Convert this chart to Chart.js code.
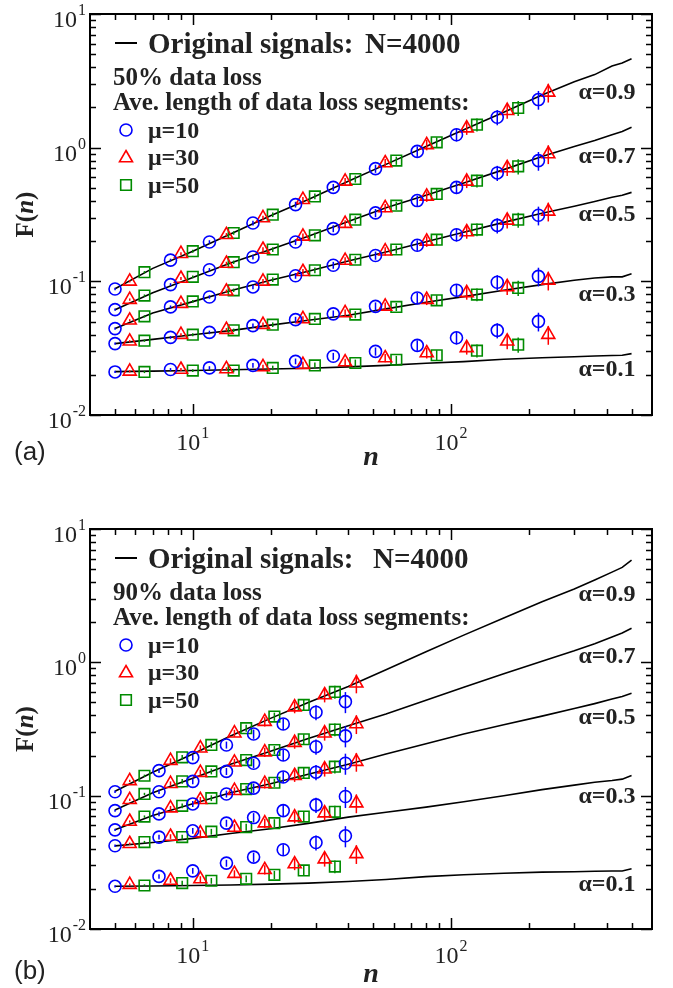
<!DOCTYPE html>
<html>
<head>
<meta charset="utf-8">
<title>F(n) with data loss</title>
<script src="https://cdn.jsdelivr.net/npm/chart.js@4.4.1/dist/chart.umd.min.js"></script>
<style>
    html, body { margin: 0; padding: 0; background: #fff; }
    #wrap { position: relative; width: 673px; height: 988px; }
    #wrap canvas { position: absolute; left: 0; }
    #chartA { top: 0; }
    #chartB { top: 490px; }
</style>
</head>
<body>
<div id="wrap">
    <canvas id="chartA" width="673" height="490"></canvas>
    <canvas id="chartB" width="673" height="498"></canvas>
</div>
<script>
// --- DATA ---
// rows in every block below run alpha = 0.9, 0.7, 0.5, 0.3, 0.1
const alphaLabels = ['α=0.9', 'α=0.7', 'α=0.5', 'α=0.3', 'α=0.1'];
const muLabels = ['μ=10', 'μ=30', 'μ=50'];

// original signals (N=4000)
const lineN = [5, 7, 10, 14, 20, 28, 40, 56, 80, 112, 160, 225, 300, 360, 420, 460, 500];

const topLines = [
    [0.088, 0.125, 0.168, 0.226, 0.31, 0.41, 0.56, 0.75, 1.02, 1.36, 1.84, 2.48, 3.11, 3.52, 4.08, 4.30, 4.63],
    [0.0614, 0.082, 0.107, 0.137, 0.173, 0.217, 0.28, 0.355, 0.44, 0.545, 0.685, 0.86, 1.02, 1.13, 1.25, 1.32, 1.42],
    [0.0443, 0.058, 0.0705, 0.085, 0.102, 0.119, 0.142, 0.166, 0.198, 0.233, 0.276, 0.323, 0.365, 0.395, 0.425, 0.44, 0.463],
    [0.0342, 0.0368, 0.0399, 0.0428, 0.047, 0.0512, 0.0558, 0.0622, 0.0698, 0.0768, 0.0858, 0.0945, 0.102, 0.106, 0.108, 0.108, 0.114],
    [0.0211, 0.0213, 0.0215, 0.0218, 0.0221, 0.0224, 0.0229, 0.0235, 0.0244, 0.0251, 0.0261, 0.0268, 0.0273, 0.0276, 0.0279, 0.0280, 0.0288]
];

const botLines = [
    [0.108, 0.15, 0.205, 0.28, 0.38, 0.50, 0.66, 0.88, 1.2, 1.6, 2.15, 2.85, 3.55, 4.15, 4.75, 5.15, 5.84],
    [0.078, 0.105, 0.135, 0.172, 0.215, 0.268, 0.335, 0.41, 0.52, 0.65, 0.82, 1.02, 1.22, 1.38, 1.55, 1.66, 1.80],
    [0.0555, 0.071, 0.087, 0.105, 0.123, 0.145, 0.172, 0.205, 0.245, 0.29, 0.34, 0.395, 0.45, 0.49, 0.53, 0.555, 0.586],
    [0.042, 0.0445, 0.0478, 0.052, 0.0565, 0.062, 0.069, 0.075, 0.082, 0.09, 0.10, 0.111, 0.12, 0.126, 0.13, 0.133, 0.1416],
    [0.0209, 0.021, 0.0212, 0.0214, 0.0217, 0.0221, 0.0227, 0.0235, 0.0247, 0.0255, 0.0262, 0.0267, 0.0269, 0.0271, 0.0272, 0.0272, 0.0283]
];

// (a) 50% data loss
const topNMu10 = [5, 8.2, 11.6, 17.1, 25, 35, 51, 74, 105, 151, 218];
const topNMu30 = [5.7, 9.0, 13.5, 18.7, 26.7, 38.9, 55.6, 80.5, 115, 165, 238];
const topNMu50 = [6.5, 10, 14.4, 20.4, 29.7, 42.6, 61.4, 88, 126, 182];

const topMu10 = [
    [0.0877, 0.144, 0.197, 0.273, 0.375, 0.505, 0.697, 0.938, 1.25, 1.69, 2.29],
    [0.0614, 0.0945, 0.122, 0.152, 0.197, 0.248, 0.325, 0.402, 0.505, 0.647, 0.800],
    [0.0443, 0.0644, 0.0764, 0.0908, 0.110, 0.132, 0.156, 0.186, 0.223, 0.262, 0.312],
    [0.0342, 0.0381, 0.0415, 0.0466, 0.0517, 0.0571, 0.0650, 0.0751, 0.0857, 0.0984, 0.109],
    [0.0210, 0.0219, 0.0225, 0.0235, 0.0252, 0.0275, 0.0299, 0.0332, 0.0378, 0.0430, 0.0502]
];
const topMu30 = [
    [0.100, 0.161, 0.223, 0.298, 0.408, 0.560, 0.768, 1.05, 1.40, 1.89, 2.59],
    [0.0730, 0.105, 0.136, 0.173, 0.217, 0.270, 0.354, 0.432, 0.560, 0.705, 0.897],
    [0.0511, 0.0681, 0.0842, 0.100, 0.118, 0.143, 0.168, 0.199, 0.234, 0.286, 0.334],
    [0.0356, 0.0399, 0.0435, 0.0474, 0.0523, 0.0580, 0.0650, 0.0730, 0.0819, 0.0908, 0.1017],
    [0.0212, 0.0219, 0.0221, 0.0229, 0.0238, 0.0249, 0.0267, 0.0291, 0.0318, 0.0356, 0.0399]
];
const topMu50 = [
    [0.117, 0.168, 0.230, 0.315, 0.432, 0.583, 0.800, 1.096, 1.486, 1.98],
    [0.0782, 0.108, 0.139, 0.173, 0.221, 0.289, 0.368, 0.451, 0.566, 0.725],
    [0.0547, 0.0708, 0.0857, 0.103, 0.121, 0.145, 0.173, 0.205, 0.244, 0.289],
    [0.0360, 0.0399, 0.0430, 0.0474, 0.0523, 0.0564, 0.0644, 0.0721, 0.0796, 0.0893],
    [0.0210, 0.0215, 0.0215, 0.0225, 0.0235, 0.0245, 0.0259, 0.0280, 0.0303, 0.0336]
];
// relative error bars
const topErrMu10 = [0.02, 0.025, 0.03, 0.04, 0.05, 0.06, 0.07, 0.09, 0.11, 0.13, 0.16];
const topErrMu30 = [0.02, 0.025, 0.03, 0.04, 0.05, 0.06, 0.07, 0.09, 0.11, 0.13, 0.16];
const topErrMu50 = [0.02, 0.025, 0.03, 0.04, 0.05, 0.06, 0.07, 0.09, 0.11, 0.13];

// (b) 90% data loss
const botNMu10 = [5, 7.4, 10, 13.5, 17.2, 22.4, 30, 39];
const botNMu30 = [5.7, 8.2, 10.7, 14.5, 19, 24.8, 32.4, 43];
const botNMu50 = [6.5, 9.1, 11.8, 16.1, 20.7, 26.9, 35.5];

const botMu10 = [
    [0.107, 0.154, 0.193, 0.240, 0.290, 0.345, 0.422, 0.507],
    [0.0773, 0.107, 0.128, 0.152, 0.175, 0.202, 0.233, 0.281],
    [0.0554, 0.0730, 0.0867, 0.103, 0.114, 0.138, 0.150, 0.175],
    [0.0421, 0.0489, 0.0545, 0.0622, 0.0685, 0.0773, 0.0853, 0.0985],
    [0.0209, 0.0248, 0.0273, 0.0312, 0.0346, 0.0393, 0.0445, 0.0500]
];
const botMu30 = [
    [0.129, 0.183, 0.227, 0.294, 0.359, 0.461, 0.569, 0.697],
    [0.0931, 0.123, 0.149, 0.178, 0.212, 0.250, 0.294, 0.345],
    [0.0640, 0.0806, 0.0931, 0.109, 0.123, 0.141, 0.158, 0.180],
    [0.0436, 0.0494, 0.0524, 0.0577, 0.0622, 0.0690, 0.0740, 0.0879],
    [0.0215, 0.0231, 0.0237, 0.0260, 0.0278, 0.0307, 0.0334, 0.0366]
];
const botMu50 = [
    [0.141, 0.194, 0.240, 0.321, 0.392, 0.479, 0.600],
    [0.103, 0.128, 0.152, 0.185, 0.220, 0.265, 0.313],
    [0.0697, 0.0839, 0.0958, 0.112, 0.125, 0.148, 0.165],
    [0.0449, 0.0489, 0.0537, 0.0581, 0.0622, 0.0697, 0.0756],
    [0.0212, 0.0221, 0.0230, 0.0238, 0.0255, 0.0275, 0.0294]
];
const botErrMu10 = [0.02, 0.04, 0.05, 0.06, 0.08, 0.10, 0.13, 0.18];
const botErrMu30 = [0.02, 0.04, 0.05, 0.06, 0.08, 0.10, 0.12, 0.16];
const botErrMu50 = [0.02, 0.04, 0.05, 0.06, 0.07, 0.09, 0.11];

// axis ticks
const xMajor = [10, 100];
const xMajorExp = ['1', '2'];
const xMinor = [5, 6, 7, 8, 9, 20, 30, 40, 50, 60, 70, 80, 90, 200, 300, 400, 500];
const yMajor = [0.01, 0.1, 1, 10];
const yMajorExp = ['-2', '-1', '0', '1'];
const yMinor = [0.02, 0.03, 0.04, 0.05, 0.06, 0.07, 0.08, 0.09,
                0.2, 0.3, 0.4, 0.5, 0.6, 0.7, 0.8, 0.9,
                2, 3, 4, 5, 6, 7, 8, 9];

// --- STYLE ---
const muColors = ['#0000ff', '#ff0000', '#008b00'];
const muShapes = ['circle', 'triangle', 'rect'];
const muRadius = [6, 7.5, 7.5];
const SERIF = '"Liberation Serif", "Times New Roman", serif';

// --- DATASETS ---
function buildDatasets(lines, nSets, valSets, errSets) {
    const datasets = [];
    lines.forEach((vals, a) => {
        datasets.push({
            label: 'original ' + alphaLabels[a],
            data: lineN.map((n, i) => ({ x: n, y: vals[i] })),
            showLine: true,
            borderColor: '#000',
            borderWidth: 1.6,
            pointRadius: 0,
            fill: false,
            order: 10
        });
    });
    for (let m = 0; m < 3; m++) {
        valSets[m].forEach((vals, a) => {
            datasets.push({
                label: muLabels[m] + ' ' + alphaLabels[a],
                data: nSets[m].map((n, i) => ({ x: n, y: vals[i] })),
                errors: errSets[m],
                showLine: false,
                pointStyle: muShapes[m],
                pointRadius: muRadius[m],
                pointBorderWidth: 1.6,
                borderColor: muColors[m],
                backgroundColor: 'rgba(0,0,0,0)',
                order: 1
            });
        });
    }
    return datasets;
}

// --- DRAWING HELPERS ---
function drawPow(ctx, x, baseY, supY, exp, align) {
    ctx.font = '24px ' + SERIF;
    const w10 = ctx.measureText('10').width;
    ctx.font = '16px ' + SERIF;
    const wExp = ctx.measureText(exp).width;
    const total = w10 + wExp + 1;
    let x0 = align === 'right' ? x - total : x - total / 2;
    ctx.textAlign = 'left';
    ctx.textBaseline = 'alphabetic';
    ctx.font = '24px ' + SERIF;
    ctx.fillText('10', x0, baseY);
    ctx.font = '16px ' + SERIF;
    ctx.fillText(exp, x0 + w10 + 1, supY);
}

function drawMarker(ctx, shape, x, y, r) {
    ctx.beginPath();
    if (shape === 'circle') {
        ctx.arc(x, y, r, 0, Math.PI * 2);
    } else if (shape === 'triangle') {
        ctx.moveTo(x, y - r);
        ctx.lineTo(x + r * Math.sin(Math.PI * 2 / 3), y + r / 2);
        ctx.lineTo(x - r * Math.sin(Math.PI * 2 / 3), y + r / 2);
        ctx.closePath();
    } else {
        const s = r * Math.SQRT1_2;
        ctx.rect(x - s, y - s, 2 * s, 2 * s);
    }
    ctx.stroke();
}

// frame, inward ticks, labels, legend and error bars
const panelDecor = {
    id: 'panelDecor',
    afterDatasetsDraw(chart, args, opts) {
        const ctx = chart.ctx;
        const { left, right, top, bottom } = chart.chartArea;
        const xs = chart.scales.x;
        const ys = chart.scales.y;
        ctx.save();

        // error bars
        ctx.lineWidth = 1.5;
        chart.data.datasets.forEach(ds => {
            if (!ds.errors) return;
            ctx.strokeStyle = ds.borderColor;
            ds.data.forEach((p, k) => {
                const e = ds.errors[k];
                const px = xs.getPixelForValue(p.x);
                ctx.beginPath();
                ctx.moveTo(px, ys.getPixelForValue(p.y * (1 + e)));
                ctx.lineTo(px, ys.getPixelForValue(p.y * (1 - e)));
                ctx.stroke();
            });
        });

        // frame
        ctx.strokeStyle = '#000';
        ctx.lineWidth = 2;
        ctx.strokeRect(left, top, right - left, bottom - top);

        // ticks, pointing inward on all four sides
        ctx.lineWidth = 1.5;
        const tickX = (v, len) => {
            const px = Math.round(xs.getPixelForValue(v)) + 0.5;
            ctx.beginPath();
            ctx.moveTo(px, bottom); ctx.lineTo(px, bottom - len);
            ctx.moveTo(px, top); ctx.lineTo(px, top + len);
            ctx.stroke();
        };
        const tickY = (v, len) => {
            const py = Math.round(ys.getPixelForValue(v)) + 0.5;
            ctx.beginPath();
            ctx.moveTo(left, py); ctx.lineTo(left + len, py);
            ctx.moveTo(right, py); ctx.lineTo(right - len, py);
            ctx.stroke();
        };
        xMinor.forEach(v => tickX(v, 6));
        xMajor.forEach(v => tickX(v, 11));
        yMinor.forEach(v => tickY(v, 6));
        yMajor.forEach(v => tickY(v, 11));

        // tick labels
        ctx.fillStyle = '#222';
        yMajor.forEach((v, i) => {
            const py = ys.getPixelForValue(v);
            drawPow(ctx, left - 4, py + 13, py + 1, yMajorExp[i], 'right');
        });
        xMajor.forEach((v, i) => {
            const px = xs.getPixelForValue(v);
            drawPow(ctx, px, bottom + opts.xLabelDy, bottom + opts.xLabelDy - 12, xMajorExp[i], 'center');
        });

        // axis titles
        ctx.fillStyle = '#222';
        ctx.save();
        ctx.translate(27, (top + bottom) / 2);
        ctx.rotate(-Math.PI / 2);
        ctx.textBaseline = 'middle';
        ctx.textAlign = 'left';
        const fB = 'bold 25px ' + SERIF, fBI = 'italic bold 25px ' + SERIF;
        ctx.font = fB; const wF = ctx.measureText('F(').width; const wP = ctx.measureText(')').width;
        ctx.font = fBI; const wN = ctx.measureText('n').width;
        let tx = -(wF + wN + wP) / 2;
        ctx.font = fB; ctx.fillText('F(', tx, 0); tx += wF;
        ctx.font = fBI; ctx.fillText('n', tx, 0); tx += wN;
        ctx.font = fB; ctx.fillText(')', tx, 0);
        ctx.restore();

        ctx.font = 'italic bold 28px ' + SERIF;
        ctx.textAlign = 'center';
        ctx.textBaseline = 'alphabetic';
        ctx.fillText('n', (left + right) / 2, bottom + opts.xTitleDy);

        // panel tag
        ctx.font = '26px "Liberation Sans", Arial, sans-serif';
        ctx.textAlign = 'left';
        ctx.fillStyle = '#222';
        ctx.fillText(opts.tag, 14, bottom + opts.tagDy);

        // legend block
        ctx.fillStyle = '#222';
        ctx.strokeStyle = '#000';
        ctx.lineWidth = 2;
        ctx.beginPath();
        ctx.moveTo(left + 25, top + 29); ctx.lineTo(left + 47, top + 29);
        ctx.stroke();
        ctx.font = 'bold 29px ' + SERIF;
        ctx.fillText('Original signals:', left + 58, top + 39);
        ctx.fillText('N=4000', opts.nX, top + 39);
        ctx.font = 'bold 25px ' + SERIF;
        ctx.fillText(opts.lossText, left + 23, top + 71);
        ctx.fillText('Ave. length of data loss segments:', left + 23, top + 96);
        ctx.font = 'bold 24px ' + SERIF;
        ctx.lineWidth = 1.6;
        const rowY = [top + 116, top + 143, top + 171];
        muLabels.forEach((lab, m) => {
            ctx.strokeStyle = muColors[m];
            const cy = m === 1 ? rowY[m] + 1 : rowY[m];
            drawMarker(ctx, muShapes[m], left + 36, cy, muRadius[m]);
            ctx.fillStyle = '#222';
            ctx.fillText(lab, left + 58, rowY[m] + 8);
        });

        // alpha tags at the right end of the lines
        ctx.font = 'bold 24px ' + SERIF;
        ctx.textAlign = 'center';
        ctx.textBaseline = 'middle';
        alphaLabels.forEach((lab, a) => {
            ctx.fillText(lab, right - 45, top + opts.alphaDy[a]);
        });

        ctx.restore();
    }
};

function makePanel(canvasId, pad, datasets, decor) {
    return new Chart(document.getElementById(canvasId), {
        type: 'scatter',
        data: { datasets: datasets },
        options: {
            responsive: false,
            animation: false,
            devicePixelRatio: 1,
            layout: { padding: pad },
            scales: {
                x: { type: 'logarithmic', min: 4, max: 600, display: false },
                y: { type: 'logarithmic', min: 0.01, max: 10, display: false }
            },
            plugins: {
                legend: { display: false },
                tooltip: { enabled: false },
                panelDecor: decor
            }
        },
        plugins: [panelDecor]
    });
}

makePanel('chartA', { left: 90, right: 21, top: 14, bottom: 75 },
    buildDatasets(topLines, [topNMu10, topNMu30, topNMu50], [topMu10, topMu30, topMu50],
        [topErrMu10, topErrMu30, topErrMu50]),
    { tag: '(a)', tagDy: 45, xLabelDy: 35, xTitleDy: 50, nX: 365,
      lossText: '50% data loss', alphaDy: [79, 143, 201, 281, 356] });

makePanel('chartB', { left: 90, right: 21, top: 39, bottom: 59 },
    buildDatasets(botLines, [botNMu10, botNMu30, botNMu50], [botMu10, botMu30, botMu50],
        [botErrMu10, botErrMu30, botErrMu50]),
    { tag: '(b)', tagDy: 50, xLabelDy: 34, xTitleDy: 53, nX: 373,
      lossText: '90% data loss', alphaDy: [66, 128, 189, 268, 356] });
</script>
</body>
</html>
